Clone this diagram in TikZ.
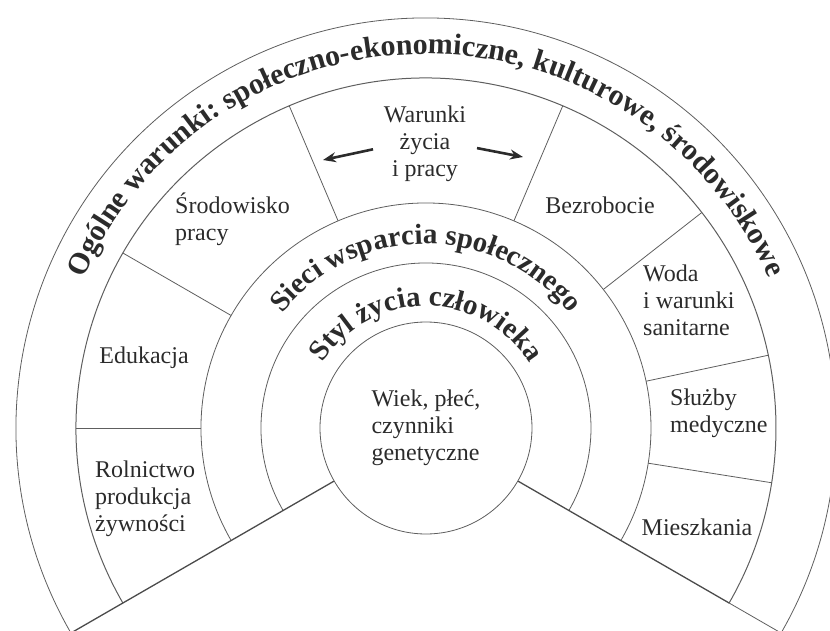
\documentclass[tikz,border=0pt]{standalone}
\usepackage{fontspec}
\setmainfont{Liberation Serif}
\usetikzlibrary{decorations.text, arrows.meta}
\definecolor{linia}{HTML}{5E5E5E}
\definecolor{napis}{HTML}{2B2B2B}

\begin{document}
\begin{tikzpicture}[x=1pt, y=1pt,
  every node/.style = {text=napis, inner sep=0pt, font=\fontsize{24pt}{27pt}\selectfont},
  pole/.style = {align=left},
  ring/.style = {draw=linia, line width=0.8pt},
  gruba/.style = {draw=linia!80!black, line width=1.3pt},
  strzalka/.style = {-{Stealth[length=13pt, width=10pt]}, line width=2.6pt, draw=napis}]

  \useasboundingbox (-426,-202) rectangle (404,428);

  % rings
  \node[circle, draw=linia, line width=0.8pt, minimum size=212pt, align=left] (wiek) at (0,0) {Wiek, płeć,\\czynniki\\genetyczne};
  \draw[ring] (210:165pt) arc[start angle=210, end angle=-30, radius=165pt];
  \draw[ring] (210:225pt) arc[start angle=210, end angle=-30, radius=225pt];
  \draw[ring, line width=1pt] (210:350pt) arc[start angle=210, end angle=-30, radius=350pt];
  \draw[ring] (210:410pt) arc[start angle=210, end angle=-30, radius=410pt];

  \coordinate (kL) at (210:410pt);
  \coordinate (sP) at (-30:350pt);
  \coordinate (kP) at (-30:410pt);
  \draw[gruba] (wiek.210) -- (kL) (wiek.-30) -- (sP);
  \draw[ring] (sP) -- (kP);

  % sectors
  \foreach \kat in {180,150,113,67,38,12,-9}
    \draw[ring] (\kat:225pt) -- (\kat:350pt);

  % curved titles
  \path[decorate, decoration={text along path, text align=center,
    text={|\color{napis}\bfseries\fontsize{30pt}{30pt}\selectfont|Ogólne warunki: społeczno-ekonomiczne, kulturowe, środowiskowe}}]
    (180:374pt) arc[start angle=180, end angle=0, radius=374pt];
  \path[decorate, decoration={text along path, text align=center,
    text={|\color{napis}\bfseries\fontsize{29pt}{29pt}\selectfont|Sieci wsparcia społecznego}}]
    (180:184pt) arc[start angle=180, end angle=0, radius=184pt];
  \path[decorate, decoration={text along path, text align=center,
    text={|\color{napis}\bfseries\fontsize{29pt}{29pt}\selectfont|Styl życia człowieka}}]
    (180:122pt) arc[start angle=180, end angle=0, radius=122pt];

  % labels
  \node[align=center] (warunki) at (-1,284) {Warunki\\życia\\i pracy};
  \node[pole, anchor=west] (srodowisko) at (-251,209) {Środowisko\\pracy};
  \node (bezrobocie) at (174,223) {Bezrobocie};
  \node[pole, anchor=west] (woda) at (217,128) {Woda\\i warunki\\sanitarne};
  \node[pole, anchor=west] (sluzby) at (244,15) {Służby\\medyczne};
  \node (mieszkania) at (271,-99) {Mieszkania};
  \node (edukacja) at (-282,70) {Edukacja};
  \node[pole, anchor=west] (rolnictwo) at (-331,-71) {Rolnictwo\\produkcja\\żywności};

  \coordinate (strzL) at (-103,268);
  \coordinate (strzP) at (97,271);
  \draw[strzalka, shorten <=11pt] ([yshift=-3pt]warunki.west) -- (strzL);
  \draw[strzalka, shorten <=11pt] ([yshift=-2pt]warunki.east) -- (strzP);
\end{tikzpicture}
\end{document}
